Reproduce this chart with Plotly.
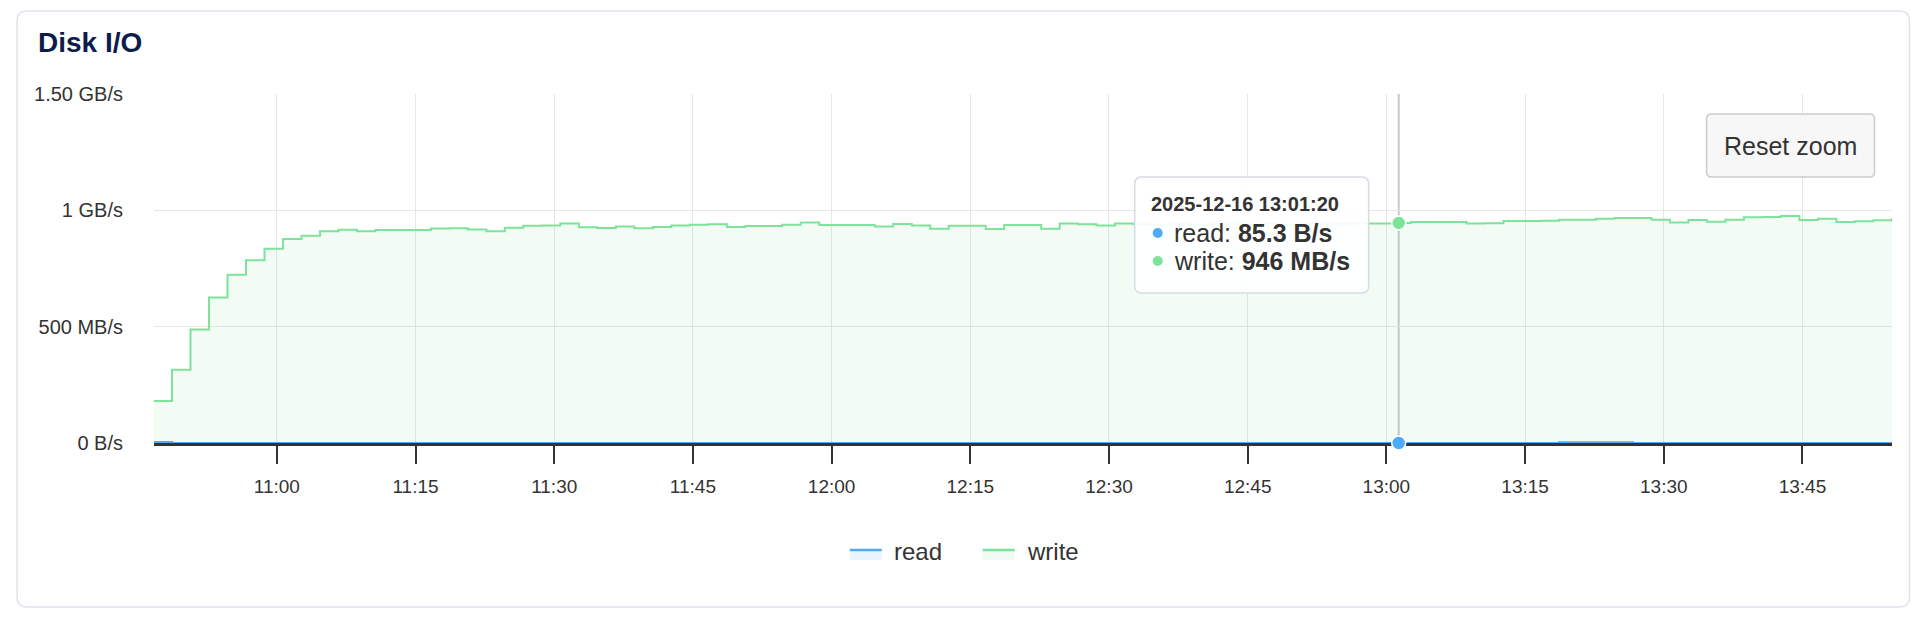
import plotly.graph_objects as go
import pandas as pd

# ---------------- data ----------------
start_time = "2025-12-16 10:46:40"
sample_step = "2min"
write_mbps = [
    180, 315, 488, 625, 723, 785, 835, 877, 891, 910,
    917, 910, 915, 915, 916, 922, 923, 918, 910, 925,
    934, 935, 943, 927, 924, 931, 923, 928, 935, 938,
    940, 928, 933, 933, 938, 948, 937, 937, 937, 931,
    941, 935, 921, 934, 934, 920, 937, 937, 921, 943,
    940, 935, 943, 940, 938, 942, 936, 940, 944, 938,
    941, 937, 943, 940, 942, 943, 943, 946, 950, 950,
    950, 943, 944, 954, 954, 955, 960, 960, 964, 967,
    967, 960, 948, 958, 951, 960, 970, 971, 976, 958,
    964, 950, 953, 957, 966,
]
read_mbps = [
    4.0, 0.0001, 0.0001, 0.0001, 0.0001, 0.0001, 0.0001, 0.0001, 0.0001, 0.0001,
    0.0001, 0.0001, 0.0001, 0.0001, 0.0001, 0.0001, 0.0001, 0.0001, 0.0001, 0.0001,
    0.0001, 0.0001, 0.0001, 0.0001, 0.0001, 0.0001, 0.0001, 0.0001, 0.0001, 0.0001,
    0.0001, 0.0001, 0.0001, 0.0001, 0.0001, 0.0001, 0.0001, 0.0001, 0.0001, 0.0001,
    0.0001, 0.0001, 0.0001, 0.0001, 0.0001, 0.0001, 0.0001, 0.0001, 0.0001, 0.0001,
    0.0001, 0.0001, 0.0001, 0.0001, 0.0001, 0.0001, 0.0001, 0.0001, 0.0001, 0.0001,
    0.0001, 0.0001, 0.0001, 0.0001, 0.0001, 0.0001, 0.0001, 0.0000853, 0.0001, 0.0001,
    0.0001, 0.0001, 0.0001, 0.0001, 0.0001, 0.0001, 3.0, 3.0, 3.0, 3.0,
    0.0001, 0.0001, 0.0001, 0.0001, 0.0001, 0.0001, 0.0001, 0.0001, 0.0001, 0.0001,
    0.0001, 0.0001, 0.0001, 0.0001, 0.0001,
]
series_names = ["read", "write"]
y_tick_vals = [0, 500, 1000, 1500]
y_tick_text = ["0 B/s", "500 MB/s", "1 GB/s", "1.50 GB/s"]
x_range = ["2025-12-16 10:46:43", "2025-12-16 13:54:41"]
x_tick0 = "2025-12-16 11:00:00"
hover_time = "2025-12-16 13:01:20"
hover_read_mbps = 0.0000853
hover_write_mbps = 946
hover_read_text = "85.3 B/s"
hover_write_text = "946 MB/s"

times = pd.date_range(start_time, periods=len(write_mbps), freq=sample_step)

# ---------------- styling / layout helpers ----------------
W, H = 1930, 622
L, R, T, B = 154, 37.5, 94, 179
PW = W - L - R
PH = H - T - B
FONT = "Liberation Sans, Arial, Helvetica, sans-serif"
GREEN = "#7ee29b"
BLUE = "#4dabf7"
GREEN_FILL = "rgba(126,226,155,0.1)"
BLUE_FILL = "rgba(77,171,247,0.1)"
TXT = "#333333"


def px(x):
    return (x - L) / PW


def py(y):
    return (H - B - y) / PH


def rrect(x0, y0, x1, y1, r):
    rx, ry = r / PW, r / PH
    X0, X1 = px(x0), px(x1)
    Yt, Yb = py(y0), py(y1)
    return (
        f"M {X0+rx},{Yt} L {X1-rx},{Yt} Q {X1},{Yt} {X1},{Yt-ry} "
        f"L {X1},{Yb+ry} Q {X1},{Yb} {X1-rx},{Yb} "
        f"L {X0+rx},{Yb} Q {X0},{Yb} {X0},{Yb+ry} "
        f"L {X0},{Yt-ry} Q {X0},{Yt} {X0+rx},{Yt} Z"
    )


fig = go.Figure()
fig.add_trace(go.Scatter(
    x=times, y=write_mbps, name=series_names[1], mode="lines",
    line=dict(color=GREEN, width=2, shape="hv"),
    fill="tozeroy", fillcolor=GREEN_FILL, showlegend=False, hoverinfo="skip",
))
fig.add_trace(go.Scatter(
    x=times, y=read_mbps, name=series_names[0], mode="lines",
    line=dict(color=BLUE, width=2, shape="hv"),
    fill="tozeroy", fillcolor=BLUE_FILL, showlegend=False, hoverinfo="skip",
))
fig.add_trace(go.Scatter(
    x=[hover_time, hover_time], y=[hover_write_mbps, hover_read_mbps],
    mode="markers", showlegend=False, cliponaxis=False, hoverinfo="skip",
    marker=dict(size=14, color=[GREEN, BLUE], line=dict(color="white", width=1.5)),
))

shapes = [
    # card border
    dict(type="path", xref="paper", yref="paper", path=rrect(17, 11, 1910, 607, 10),
         line=dict(color="#dfe4ed", width=1.5), fillcolor="rgba(0,0,0,0)", layer="below"),
    # crosshair
    dict(type="line", xref="x", yref="paper", x0=hover_time, x1=hover_time, y0=0, y1=1,
         line=dict(color="#c8c8c8", width=2), layer="between"),
    # reset zoom button
    dict(type="path", xref="paper", yref="paper", path=rrect(1707, 114, 1875, 177, 5),
         line=dict(color="#cccccc", width=1.5), fillcolor="#f7f7f7", layer="above"),
    # tooltip box
    dict(type="path", xref="paper", yref="paper", path=rrect(1135, 177, 1369, 293, 7),
         line=dict(color="#d6dbe3", width=1.5), fillcolor="rgba(255,255,255,0.92)", layer="above"),
]
for cy, col in [(233, BLUE), (261, GREEN)]:
    shapes.append(dict(type="circle", xref="paper", yref="paper",
                       x0=px(1153), x1=px(1163), y0=py(cy + 5), y1=py(cy - 5),
                       line=dict(width=0), fillcolor=col, layer="above"))

annotations = [
    dict(text="<b>Disk I/O</b>", x=px(36), y=py(42.5), xref="paper", yref="paper",
         xanchor="left", yanchor="middle", showarrow=False,
         font=dict(size=28, color="#0d1c4a", family=FONT)),
    dict(text="Reset zoom", x=px(1791), y=py(146), xref="paper", yref="paper",
         xanchor="center", yanchor="middle", showarrow=False,
         font=dict(size=25, color=TXT, family=FONT)),
    dict(text=f"<b>{hover_time}</b>", x=px(1149), y=py(204), xref="paper", yref="paper",
         xanchor="left", yanchor="middle", showarrow=False,
         font=dict(size=20, color=TXT, family=FONT)),
    dict(text=f"{series_names[0]}: <b>{hover_read_text}</b>", x=px(1172), y=py(233),
         xref="paper", yref="paper", xanchor="left", yanchor="middle", showarrow=False,
         font=dict(size=25, color=TXT, family=FONT)),
    dict(text=f"{series_names[1]}: <b>{hover_write_text}</b>", x=px(1172), y=py(261),
         xref="paper", yref="paper", xanchor="left", yanchor="middle", showarrow=False,
         font=dict(size=25, color=TXT, family=FONT)),
]

# custom legend (line over a thin filled band, then label)
legend_items = [(series_names[0], BLUE, BLUE_FILL, 850), (series_names[1], GREEN, GREEN_FILL, 983)]
for name, col, fillc, lx in legend_items:
    shapes.append(dict(type="rect", xref="paper", yref="paper",
                       x0=px(lx), x1=px(lx + 32), y0=py(560), y1=py(550),
                       line=dict(width=0), fillcolor=fillc.replace("0.1)", "0.12)"), layer="above"))
    shapes.append(dict(type="line", xref="paper", yref="paper",
                       x0=px(lx), x1=px(lx + 32), y0=py(550), y1=py(550),
                       line=dict(color=col, width=2.5), layer="above"))
    annotations.append(dict(text=name, x=px(lx + 42), y=py(551), xref="paper", yref="paper",
                            xanchor="left", yanchor="middle", showarrow=False,
                            font=dict(size=24, color=TXT, family=FONT)))

fig.update_layout(
    width=W, height=H,
    margin=dict(l=L, r=R, t=T, b=B, pad=0),
    paper_bgcolor="white", plot_bgcolor="white",
    font=dict(family=FONT, color=TXT),
    showlegend=False,
    shapes=shapes,
    annotations=annotations,
    xaxis=dict(
        type="date", range=x_range, tick0=x_tick0, dtick=900000, tickformat="%H:%M",
        showgrid=True, gridcolor="#e6e6e6", gridwidth=1,
        showline=True, linecolor="#333333", linewidth=2.5,
        ticks="outside", ticklen=18, tickwidth=2, tickcolor="#333333",
        tickfont=dict(size=19, color=TXT), ticklabelstandoff=6, layer="below traces",
        zeroline=False, fixedrange=True,
    ),
    yaxis=dict(
        range=[0, 1500], tickvals=y_tick_vals, ticktext=y_tick_text,
        showgrid=True, gridcolor="#e6e6e6", gridwidth=1,
        zeroline=False, showline=False, ticks="",
        ticklabelstandoff=30, tickfont=dict(size=20, color=TXT),
        layer="below traces", fixedrange=True,
    ),
)

fig.write_html(
    "out.html",
    config={"displayModeBar": False},
    post_script="document.body.style.margin='0';document.body.style.overflow='hidden';",
)
